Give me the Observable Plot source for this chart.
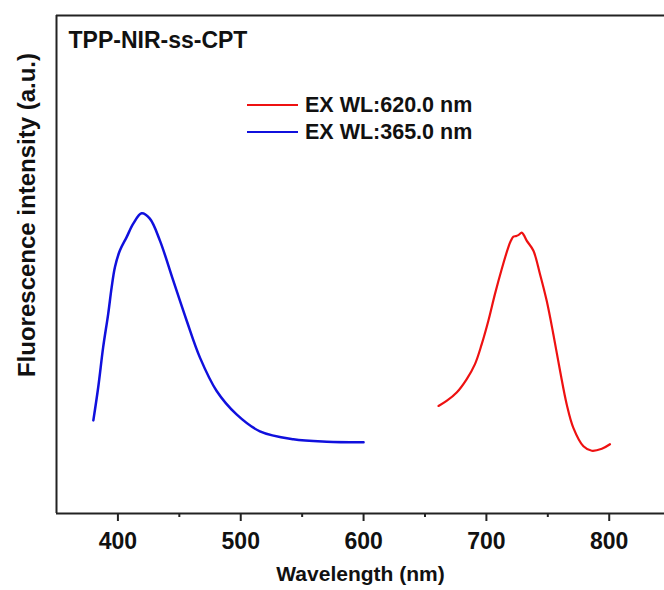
<!DOCTYPE html>
<html><head><meta charset="utf-8">
<script src="https://cdn.jsdelivr.net/npm/d3@7"></script>
<script src="https://cdn.jsdelivr.net/npm/@observablehq/plot@0.6"></script>
<style>
body{margin:0;background:#fff;overflow:hidden}
#chart{width:664px;height:590px}
</style>
</head><body><div id="chart"></div>
<script>
// ---- data ----
const titleText = "TPP-NIR-ss-CPT";
const xLabel = "Wavelength (nm)";
const yLabel = "Fluorescence intensity (a.u.)";
const majorTicks = [400, 500, 600, 700, 800];
const minorTicks = [450, 550, 650, 750];
const seriesNames = ["EX WL:620.0 nm", "EX WL:365.0 nm"];
const seriesColors = ["#ee1111", "#1010dd"];

const blueWL = [380, 384, 388, 392.1, 394.9, 397.6, 401.6, 407.1, 412.5, 419.3, 426, 434.2, 445, 456, 466.8, 480.4, 496.6, 515.6, 542.8, 570, 600];
const blueI  = [18.7, 25.4, 33.4, 40.1, 45.4, 49.5, 52.8, 55.5, 58.2, 60.3, 59.2, 54.8, 46.8, 38.7, 31.3, 24.6, 19.9, 16.5, 14.9, 14.4, 14.3];

const redWL = [661, 667.6, 675.8, 684, 690.7, 696.2, 701.6, 707, 712.5, 717.9, 720, 722, 724, 726, 728.8, 730.5, 732.8, 738.2, 743.6, 749.1, 754.5, 760, 765.4, 770.8, 779, 785.8, 794, 800.6];
const redI  = [21.6, 22.6, 24.3, 27.0, 30.0, 34.0, 38.7, 44.1, 49.1, 53.5, 54.8, 55.6, 55.7, 55.9, 56.4, 55.9, 54.8, 52.8, 48.1, 42.7, 36.0, 28.6, 21.9, 17.2, 13.5, 12.6, 13.0, 13.9];

const blue = blueWL.map((x, i) => ({x, y: blueI[i]}));
const red = redWL.map((x, i) => ({x, y: redI[i]}));

const font = "'Liberation Sans', Arial, Helvetica, sans-serif";

const chart = Plot.plot({
  width: 664, height: 590,
  marginLeft: 56, marginRight: 0, marginTop: 15, marginBottom: 77,
  style: {fontFamily: font, fontWeight: "bold", background: "#fff", color: "#111"},
  x: {domain: [350, 845]},
  y: {domain: [0, 100], axis: null},
  marks: [
    Plot.ruleY([100], {stroke: "#222", strokeWidth: 2}),
    Plot.ruleX([350], {stroke: "#222", strokeWidth: 2}),
    Plot.ruleY([0], {stroke: "#222", strokeWidth: 2}),
    Plot.axisX({ticks: majorTicks, tickSize: 8, tickPadding: 11, fontSize: 23, strokeWidth: 2, stroke: "#222", label: null, tickFormat: d => String(d)}),
    Plot.axisX({ticks: minorTicks, tickSize: 4, strokeWidth: 2, stroke: "#222", label: null, tickFormat: () => ""}),
    Plot.line(blue, {x: "x", y: "y", stroke: seriesColors[1], strokeWidth: 2.5, curve: "catmull-rom"}),
    Plot.line(red, {x: "x", y: "y", stroke: seriesColors[0], strokeWidth: 2.2, curve: "catmull-rom"}),
    Plot.text([titleText], {frameAnchor: "top-left", dx: 12, dy: 32, textAnchor: "start", lineAnchor: "bottom", fontSize: 23, fontWeight: "bold", fill: "#111"}),
    Plot.text([xLabel], {frameAnchor: "bottom", dy: 67, textAnchor: "middle", lineAnchor: "bottom", fontSize: 21, fontWeight: "bold", fill: "#111"})
  ]
});
document.getElementById("chart").appendChild(chart);

const svg = d3.select(chart);
// y label
svg.append("text")
  .attr("transform", "translate(35,215) rotate(-90)")
  .attr("text-anchor", "middle")
  .attr("font-family", font).attr("font-weight", "bold").attr("font-size", 24)
  .attr("fill", "#111")
  .text(yLabel);
// legend
const lg = svg.append("g");
seriesNames.forEach((name, i) => {
  const yy = 105 + i * 27;
  lg.append("line").attr("x1", 247).attr("x2", 298).attr("y1", yy).attr("y2", yy)
    .attr("stroke", seriesColors[i]).attr("stroke-width", 2);
  lg.append("text").attr("x", 305).attr("y", yy + 7)
    .attr("text-anchor", "start")
    .attr("font-family", font).attr("font-weight", "bold").attr("font-size", 21.5)
    .attr("fill", "#111").text(name);
});
</script>
</body></html>
